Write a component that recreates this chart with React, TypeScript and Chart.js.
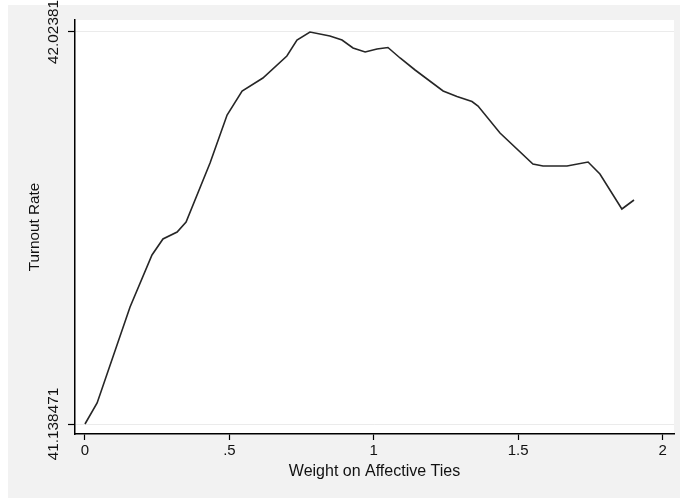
import React, { useEffect, useRef } from 'react';
import { Chart, registerables } from 'chart.js';

Chart.register(...registerables);

// Weight on affective ties (x) and turnout rate (y)
const weightOnAffectiveTies = [
  0, 0.042, 0.156, 0.232, 0.27, 0.319, 0.35, 0.433, 0.492, 0.544, 0.616, 0.699,
  0.734, 0.779, 0.848, 0.89, 0.928, 0.97, 1.011, 1.049, 1.091, 1.143, 1.24,
  1.288, 1.34, 1.361, 1.437, 1.551, 1.586, 1.669, 1.742, 1.783, 1.859, 1.901,
];
const turnoutRate = [
  41.138471, 41.1859, 41.4027, 41.5202, 41.5563, 41.5721, 41.5947, 41.728,
  41.8364, 41.8906, 41.9199, 41.9696, 42.0057, 42.02381, 42.0148, 42.0057,
  41.9877, 41.9786, 41.9854, 41.9888, 41.9651, 41.938, 41.8906, 41.8781,
  41.8668, 41.8567, 41.7957, 41.7257, 41.7212, 41.7212, 41.7302, 41.7031,
  41.6241, 41.6444,
];

const xTickValues = [0, 0.5, 1, 1.5, 2];
const xTickLabels = ['0', '.5', '1', '1.5', '2'];
const yTickValues = [41.138471, 42.02381];
const yTickLabels = ['41.138471', '42.02381'];

const xTitle = 'Weight on Affective Ties';
const yTitle = 'Turnout Rate';

const FONT = '"Liberation Sans", Arial, Helvetica, sans-serif';

const backgroundPlugin = {
  id: 'stataBackground',
  beforeDraw(chart: any) {
    const { ctx, chartArea, width, height } = chart;
    ctx.save();
    ctx.fillStyle = '#ffffff';
    ctx.fillRect(0, 0, width, height);
    ctx.fillStyle = '#f2f2f2';
    ctx.fillRect(8, 5, width - 8, height - 7);
    ctx.fillStyle = '#ffffff';
    ctx.fillRect(
      chartArea.left,
      chartArea.top,
      chartArea.right - chartArea.left,
      chartArea.bottom - chartArea.top
    );
    ctx.restore();
  },
};

export default function App() {
  const canvasRef = useRef<HTMLCanvasElement | null>(null);

  useEffect(() => {
    if (!canvasRef.current) return;
    const points = weightOnAffectiveTies.map((x, i) => ({ x, y: turnoutRate[i] }));
    const chart = new Chart(canvasRef.current, {
      type: 'line',
      data: {
        datasets: [
          {
            data: points,
            borderColor: '#262626',
            borderWidth: 1.6,
            pointRadius: 0,
            tension: 0,
            fill: false,
          },
        ],
      },
      options: {
        animation: false,
        responsive: false,
        devicePixelRatio: 1,
        layout: { padding: { top: 20, right: 6, left: 0, bottom: 0 } },
        plugins: {
          legend: { display: false },
          tooltip: { enabled: false },
        },
        scales: {
          x: {
            type: 'linear',
            min: -0.0346,
            max: 2.0395,
            afterBuildTicks: (s: any) => {
              s.ticks = xTickValues.map((v) => ({ value: v }));
            },
            afterFit: (s: any) => {
              s.height = 66;
            },
            ticks: {
              autoSkip: false,
              maxRotation: 0,
              minRotation: 0,
              padding: 1.5,
              color: '#111',
              font: { family: FONT, size: 15 },
              callback: (_v: any, i: number) => xTickLabels[i],
            },
            grid: {
              drawOnChartArea: false,
              drawTicks: true,
              tickLength: 6,
              tickColor: '#000',
              tickWidth: 1.2,
            },
            border: { display: true, color: '#000', width: 1.5 },
            title: {
              display: true,
              text: xTitle,
              color: '#111',
              font: { family: FONT, size: 16 },
              padding: { top: 0, bottom: 18.9 },
            },
          },
          y: {
            type: 'linear',
            min: 41.11589,
            max: 42.05091,
            afterBuildTicks: (s: any) => {
              s.ticks = yTickValues.map((v) => ({ value: v }));
            },
            afterFit: (s: any) => {
              s.width = 75;
            },
            ticks: {
              autoSkip: false,
              minRotation: 90,
              maxRotation: 90,
              crossAlign: 'center',
              padding: -21.5,
              color: '#111',
              font: { family: FONT, size: 15.3 },
              callback: (_v: any, i: number) => yTickLabels[i],
            },
            grid: {
              color: '#ebebeb',
              lineWidth: 1,
              drawTicks: true,
              tickLength: 7,
              tickColor: '#000',
              tickWidth: 1.2,
            },
            border: { display: true, color: '#000', width: 1.5 },
            title: {
              display: true,
              text: yTitle,
              color: '#111',
              font: { family: FONT, size: 15.3 },
              padding: { top: 25.5, bottom: 0 },
            },
          },
        },
      } as any,
      plugins: [backgroundPlugin],
    });
    return () => chart.destroy();
  }, []);

  return (
    <div style={{ position: 'absolute', left: 0, top: 0, width: 680, height: 500 }}>
      <canvas ref={canvasRef} width={680} height={500} style={{ display: 'block' }} />
    </div>
  );
}
